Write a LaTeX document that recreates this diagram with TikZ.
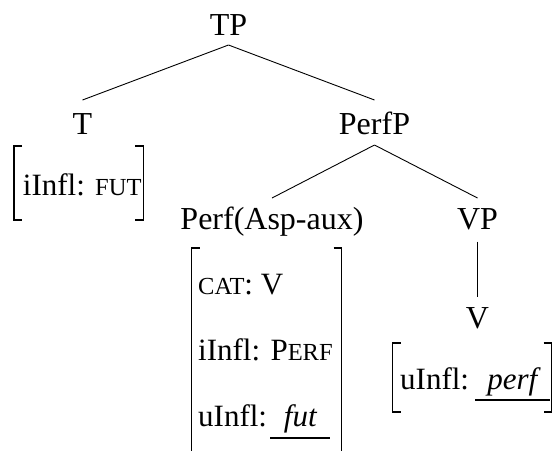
\documentclass[tikz,border=0pt]{standalone}
\usepackage{fontspec}
\setmainfont{Liberation Serif}
\newcommand{\fsc}[1]{{\fontsize{24.5}{28}\selectfont #1}}
\tikzset{
  lbl/.style={font=\fontsize{32}{38}\selectfont, inner sep=0pt, anchor=base},
  feat/.style={font=\fontsize{31}{37}\selectfont, inner sep=0pt, anchor=base west},
  featval/.style={font=\fontsize{31}{37}\selectfont\itshape, inner sep=0pt, anchor=base},
  edge/.style={line width=0.9pt},
  brk/.style={line width=1.2pt},
  uline/.style={line width=1.6pt}
}
\begin{document}
\begin{tikzpicture}[x=1pt,y=-1pt]
\useasboundingbox (0,0) rectangle (555,451);
% tree nodes
\node[lbl] (TP) at (228.5,35) {TP};
\node[lbl] (T) at (82.5,134) {T};
\node[lbl] (PerfP) at (374.5,134) {PerfP};
\node[lbl] (Perf) at (272,229) {Perf(Asp-aux)};
\node[lbl] (VP) at (477.5,229) {VP};
\node[lbl] (V) at (477.5,328) {V};
% edges
\draw[edge] ([yshift=-10pt]TP.base) -- ([yshift=34pt]T.base);
\draw[edge] ([yshift=-10pt]TP.base) -- ([yshift=34pt]PerfP.base);
\draw[edge] ([yshift=-11pt]PerfP.base) -- ([yshift=31pt]Perf.base);
\draw[edge] ([yshift=-11pt]PerfP.base) -- ([yshift=31pt]VP.base);
\draw[edge] ([yshift=-12.5pt]VP.base) -- ([yshift=31.5pt]V.base);
% T features
\draw[brk] (22,146) -- (14,146) -- (14,220) -- (22,220);
\draw[brk] (135.3,146) -- (143.3,146) -- (143.3,220) -- (135.3,220);
\node[feat] (tinfl) at (22.7,195) {iInfl: \fsc{FUT}};
% Perf features
\draw[brk] (199.7,248) -- (191.7,248) -- (191.7,451);
\draw[brk] (333.7,248) -- (341.7,248) -- (341.7,451);
\node[feat] (pcat) at (198,294) {\fsc{CAT}: V};
\node[feat] (pinfl) at (198,360) {iInfl: P\fsc{ERF}};
\node[feat] (puinfl) at (198,426) {uInfl:};
\node[featval] (fut) at ([xshift=33pt]puinfl.base east) {fut};
\draw[uline] ([xshift=3pt,yshift=-12pt]puinfl.base east) -- ([xshift=63pt,yshift=-12pt]puinfl.base east);
% V features
\draw[brk] (400.7,343) -- (392.7,343) -- (392.7,412) -- (400.7,412);
\draw[brk] (543.7,343) -- (551.7,343) -- (551.7,412) -- (543.7,412);
\node[feat] (vuinfl) at (400,389) {uInfl:};
\node[featval] (perf) at ([xshift=43pt]vuinfl.base east) {perf};
\draw[uline] ([xshift=6pt,yshift=-11pt]vuinfl.base east) -- ([xshift=81pt,yshift=-11pt]vuinfl.base east);
\end{tikzpicture}
\end{document}
